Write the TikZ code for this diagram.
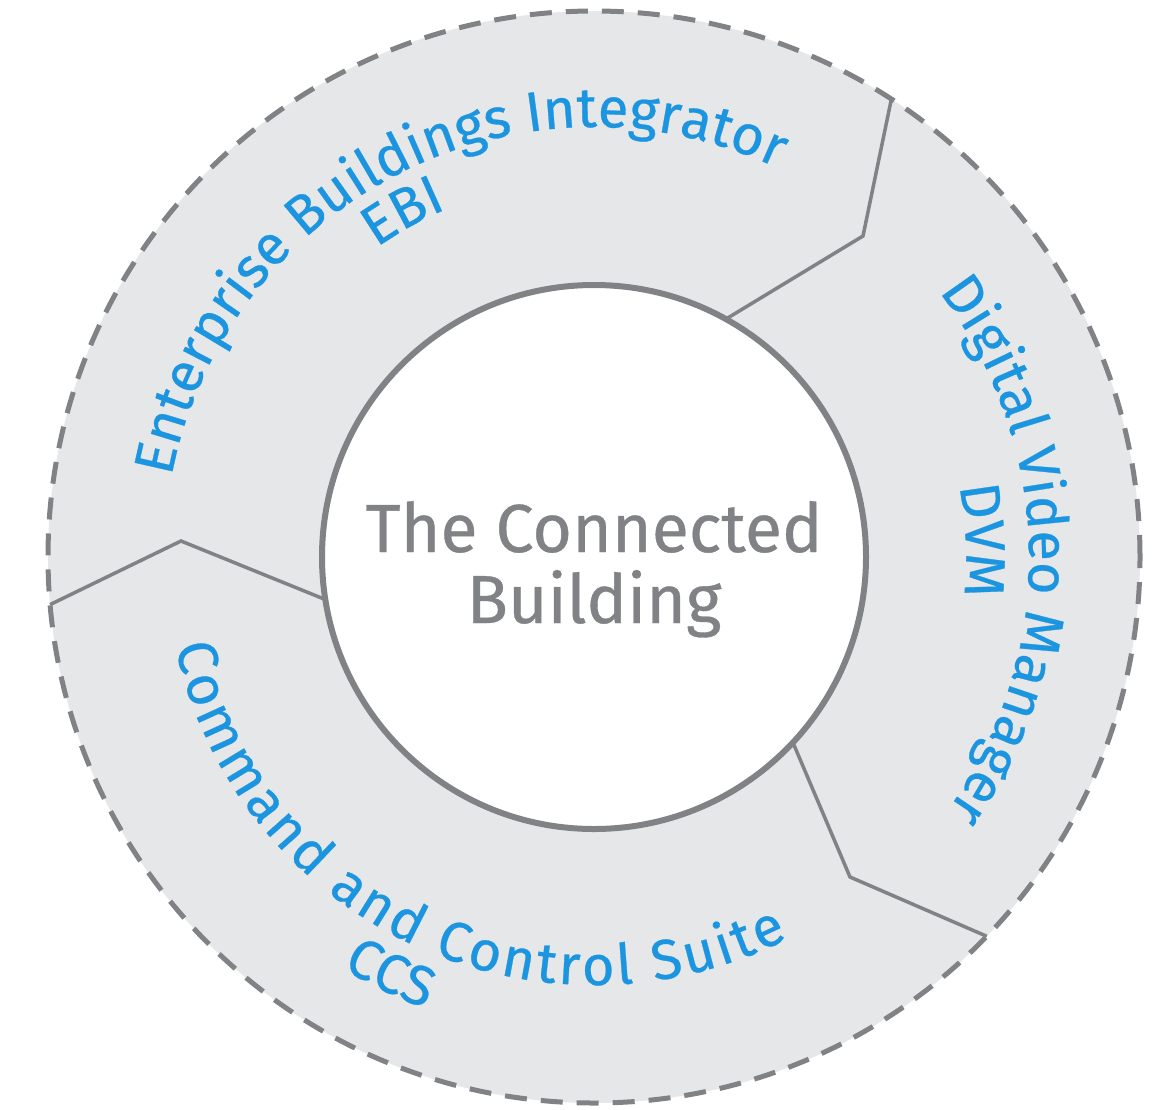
\documentclass[tikz,border=0pt]{standalone}
\usepackage{fontspec}
\setmainfont{Fira Sans}[FakeBold=0.5,AutoFakeBold=0.5]
\usetikzlibrary{decorations.text}
\definecolor{ringfill}{HTML}{E6E7E8}
\definecolor{linegray}{HTML}{808285}
\definecolor{cblue}{HTML}{1B95E0}
\newcommand\arcfont{\fontsize{56}{60}\selectfont\bfseries}
\tikzset{
  arctext/.style={decorate, decoration={text along path, text align=center, text color=cblue, text={|\arcfont|#1}}},
  arcfit/.style={decorate, decoration={text along path, text align=fit to path, text color=cblue, text={|\arcfont|#1}}},
  divider/.style={draw=linegray, line width=3.5pt, line join=miter},
  ring/.style={circle, inner sep=0pt, outer sep=0pt},
  centertext/.style={anchor=base, text=linegray, inner sep=0pt, font=\fontsize{68}{70}\selectfont\bfseries},
}
\begin{document}
\begin{tikzpicture}[x=1pt,y=1pt]
\useasboundingbox (0,0) rectangle (1162,-1109);
\node[ring, minimum size=1092pt, fill=ringfill, draw=linegray, line width=5pt, dash pattern=on 22pt off 14pt] (rim) at (594,-557) {};
\node[ring, minimum size=544pt, fill=white, draw=linegray, line width=6pt] (hub) at (594,-557) {};
\coordinate (b1) at (863,-236);
\coordinate (b2) at (181,-541);
\coordinate (b3) at (850,-877);
\draw[divider] (hub.61) -- (b1) -- (rim.57);
\draw[divider] (hub.189) -- (b2) -- (rim.185);
\draw[divider] (hub.317) -- (b3) -- (rim.316);
\node[centertext] (t1) at (594,-552) {The Connected};
\node[centertext] (t2) at (594,-623) {Building};
\path[arctext={Enterprise Buildings Integrator}] ([shift={(187:430)}]rim.center) arc[start angle=187, end angle=47, radius=430];
\path[arctext={EBI}] ([shift={(159:378)}]rim.center) arc[start angle=159, end angle=79, radius=378];
\path[arctext={Digital Video Manager}] ([shift={(61:435)}]rim.center) arc[start angle=61, end angle=-59, radius=435];
\path[arctext={DVM}] ([shift={(32.5:372)}]rim.center) arc[start angle=32.5, end angle=-27.5, radius=372];
\path[arcfit={Command and Control Suite}] ([shift={(192:428)}]rim.center) arc[start angle=192, end angle=297, radius=428];
\path[arctext={CCS}] ([shift={(214:482)}]rim.center) arc[start angle=214, end angle=274, radius=482];
\end{tikzpicture}
\end{document}
